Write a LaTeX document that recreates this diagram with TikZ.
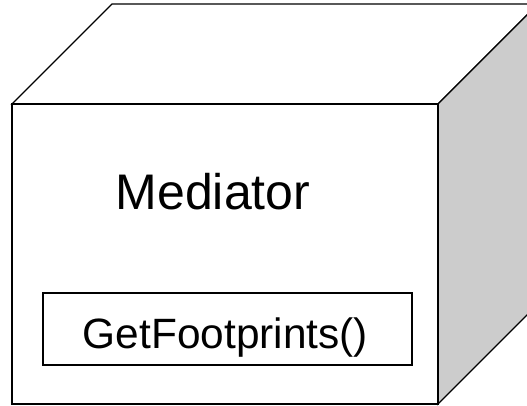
\documentclass[tikz,border=0pt]{standalone}
\usepackage{fontspec}
\setmainfont{Liberation Sans}
\begin{document}
\begin{tikzpicture}[x=1pt,y=-1pt,
  edge/.style={draw=black,line width=1.4pt,line join=miter},
  side/.style={edge,fill=black!20},
  label/.style={anchor=base,inner sep=0pt}]
\useasboundingbox (0,0) rectangle (527,406);
\clip (0,0) rectangle (527,406);
% node cube: top face, right face, front face (depth 100 at 45 degrees)
\draw[edge,fill=white] (12,104) -- (112,4) -- (538,4) -- (438,104) -- cycle;
\draw[side] (438,104) -- (538,4) -- (538,304) -- (438,404) -- cycle;
\draw[edge,fill=white] (12,104) rectangle (438,404);
% operation compartment
\draw[edge,line width=1.2pt] (43,293) rectangle (412,365);
\node[label,font=\fontsize{50}{50}\selectfont] (name) at (213,209) {Mediator};
\node[label,font=\fontsize{42.4}{42.4}\selectfont] (op) at (225.5,348) {GetFootprints()};
\end{tikzpicture}
\end{document}
